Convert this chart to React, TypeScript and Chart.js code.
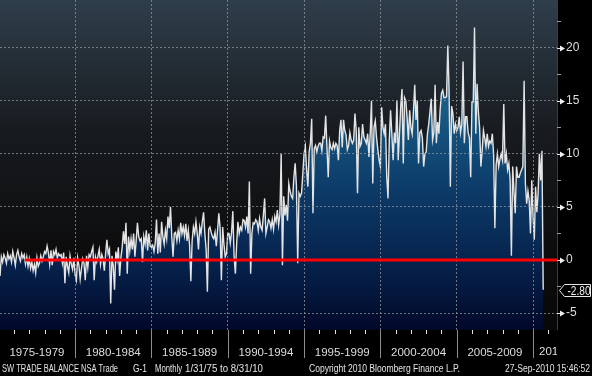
import React, { useEffect, useRef } from "react";
import { Chart, registerables } from "chart.js";

Chart.register(...registerables);

// ---- Monthly trade balance values (one array per year, Jan..Dec) ----
const y1975 = [-1.5, 0.3, -0.2, 0.5, 0.2, -0.3, 0.6, 0.1, 0.4, -0.2, 0.8, 0.2];
const y1976 = [-0.5, 0.5, 0.9, 0.3, -0.1, 0.6, 0.2, 0.5, -0.4, 0.3, -0.6, 0.1];
const y1977 = [-0.8, -0.2, -1.0, -0.4, -1.2, 0.2, -0.6, -0.3, 0.4, -0.1, 0.3, 0.8];
const y1978 = [0.6, 1.3, 0.7, -0.4, 0.9, -0.5, 0.8, 0.5, 1.0, 0.2, 0.6, 0.4];
const y1979 = [0.5, -0.3, 0.7, -2.2, 0.3, -0.6, -1.2, 0.4, -0.4, -0.9, 0.2, -1.4];
const y1980 = [-1.9, 0.2, -0.5, -1.8, -0.8, 0.1, -0.3, -1.9, 0.4, -0.7, 0.5, 0.3];
const y1981 = [0.8, 1.2, -1.9, 0.3, -0.2, 0.4, 1.0, -0.4, 0.5, 0.1, -1.0, 0.6];
const y1982 = [1.9, 0.6, 1.0, -4.1, 0.4, -0.6, -2.8, 0.8, 0.0, 1.2, -1.5, 0.2];
const y1983 = [1.2, 2.7, 1.5, 3.5, -1.3, 2.2, 0.9, 2.0, 1.0, 2.5, 0.3, 1.8];
const y1984 = [3.5, 2.2, 1.8, 2.0, -0.2, 2.2, 1.5, 2.8, 0.9, 2.5, 1.3, 1.2];
const y1985 = [1.4, 0.8, 1.6, 3.8, 0.6, 2.5, 0.7, 3.6, 2.2, 1.5, 2.8, 2.0];
const y1986 = [4.1, 3.0, 5.0, 2.2, 0.3, 2.5, 2.6, 1.8, 2.8, 2.0, 3.5, 2.5];
const y1987 = [3.1, 2.3, 3.4, 1.8, 2.8, 1.4, -2.0, 1.8, 3.1, 2.5, 3.6, 2.5];
const y1988 = [1.0, 3.1, 2.5, 3.6, 4.5, 2.5, 1.0, -3.0, 2.9, 3.1, 2.6, 2.2];
const y1989 = [2.0, 2.6, 1.3, 2.8, 4.4, 3.0, -1.9, 3.1, 1.5, 0.3, 0.6, 2.5];
const y1990 = [2.5, 1.6, 2.6, 4.6, 0.3, -1.3, 1.5, 3.6, 2.5, 3.1, 2.8, 3.8];
const y1991 = [3.7, 3.1, 4.1, 2.5, 7.4, -1.3, 2.5, 3.5, 3.4, 3.8, 3.6, 2.8];
const y1992 = [3.9, 3.1, 2.8, 4.2, 5.8, 2.5, 3.1, 3.8, 3.6, 3.0, 3.8, 2.9];
const y1993 = [4.1, 3.6, 4.7, 3.3, 4.3, 10.0, -0.5, 6.0, 4.2, 5.2, 3.7, 7.2];
const y1994 = [6.5, 6.0, 5.8, 7.8, 9.1, 7.0, -0.3, 6.3, 6.0, 6.3, 8.1, 10.0];
const y1995 = [10.7, 8.5, 6.9, 10.2, 11.0, 13.3, 4.4, 10.5, 10.8, 10.2, 10.7, 11.0];
const y1996 = [11.0, 10.3, 11.6, 11.5, 13.6, 10.6, 7.8, 11.2, 10.6, 10.4, 11.0, 10.5];
const y1997 = [11.0, 10.8, 9.4, 12.2, 13.2, 10.6, 13.2, 12.2, 11.8, 10.4, 10.8, 12.0];
const y1998 = [11.3, 11.0, 11.3, 13.8, 12.2, 6.3, 12.5, 10.7, 11.0, 12.8, 11.6, 11.3];
const y1999 = [11.0, 11.9, 9.7, 11.9, 15.0, 7.2, 12.5, 13.1, 11.5, 10.4, 9.4, 8.8];
const y2000 = [14.4, 12.5, 11.9, 12.8, 7.8, 5.8, 11.3, 14.1, 11.9, 9.4, 12.0, 11.0];
const y2001 = [15.0, 9.4, 11.9, 14.5, 16.1, 9.1, 15.3, 15.0, 13.4, 11.3, 14.1, 12.5];
const y2002 = [11.9, 14.0, 16.5, 13.2, 15.0, 9.1, 12.0, 12.2, 11.5, 8.8, 10.0, 10.2];
const y2003 = [11.9, 12.8, 14.0, 15.2, 11.3, 12.0, 16.5, 11.0, 13.0, 11.9, 14.2, 15.7];
const y2004 = [16.0, 15.3, 15.3, 15.4, 20.2, 16.0, 6.9, 14.5, 13.8, 11.9, 12.8, 12.2];
const y2005 = [12.5, 13.5, 12.0, 12.8, 18.7, 11.0, 13.5, 13.5, 12.0, 11.5, 7.8, 14.9];
const y2006 = [14.9, 21.9, 11.9, 16.6, 14.0, 12.5, 8.8, 10.3, 12.2, 11.5, 10.7, 11.9];
const y2007 = [10.7, 11.2, 11.0, 11.9, 10.0, 3.0, 9.0, 10.0, 8.8, 9.5, 10.0, 9.4];
const y2008 = [14.7, 9.1, 10.0, 8.5, 9.1, 7.5, 0.4, 8.8, 6.5, 4.4, 8.8, 7.8];
const y2009 = [7.8, 8.2, 8.5, 8.8, 16.9, 7.2, 5.3, 6.5, 5.6, 2.5, 7.5, 4.1];
const y2010 = [1.9, 6.9, 4.5, 6.3, 10.0, 7.5, 10.3, -2.8];

const yearStarts = [
  1975, 1976, 1977, 1978, 1979, 1980, 1981, 1982, 1983, 1984, 1985, 1986,
  1987, 1988, 1989, 1990, 1991, 1992, 1993, 1994, 1995, 1996, 1997, 1998,
  1999, 2000, 2001, 2002, 2003, 2004, 2005, 2006, 2007, 2008, 2009, 2010,
];
const seriesByYear = [
  y1975, y1976, y1977, y1978, y1979, y1980, y1981, y1982, y1983, y1984, y1985, y1986,
  y1987, y1988, y1989, y1990, y1991, y1992, y1993, y1994, y1995, y1996, y1997, y1998,
  y1999, y2000, y2001, y2002, y2003, y2004, y2005, y2006, y2007, y2008, y2009, y2010,
];

// ---- Axis labels / ticks ----
const periodStarts = [1975, 1980, 1985, 1990, 1995, 2000, 2005, 2010];
const periodLabels = [
  "1975-1979", "1980-1984", "1985-1989", "1990-1994",
  "1995-1999", "2000-2004", "2005-2009", "2010-2014",
];
const yMajorTicks = [-5, 0, 5, 10, 15, 20];
const yMinorTicks = [-2.5, 2.5, 7.5, 12.5, 17.5, 22.5];

// ---- Footer texts ----
const footerTitle = "SW TRADE BALANCE NSA Trade";
const footerGraph = "G-1";
const footerFreq = "Monthly";
const footerRange = "1/31/75 to 8/31/10";
const footerCopyright = "Copyright 2010 Bloomberg Finance L.P.";
const footerStamp = "27-Sep-2010 15:46:52";

// ---- Scale ranges ----
const X_MIN = 1975.08;
const X_MAX = 2011.57;
const Y_MIN = -6.6;
const Y_MAX = 24.5;
const ZERO_LINE_FROM = 1976.7;

const FONT = "'Liberation Sans', Arial, sans-serif";
const LABEL_COLOR = "#dedede";
const GRID_COLOR = "rgba(150,150,150,0.75)";
const X_LABEL_PAD = 16;
const X_LABEL_SIZE = 11.5;

function fitText(ctx: CanvasRenderingContext2D, text: string, x: number, y: number, w: number) {
  const m = ctx.measureText(text).width;
  const s = m > 0 ? w / m : 1;
  ctx.save();
  ctx.translate(x, y);
  ctx.scale(s, 1);
  ctx.fillText(text, 0, 0);
  ctx.restore();
}

const decorPlugin = {
  id: "decor",
  beforeDraw(chart: any) {
    const { ctx, chartArea: a, width, height } = chart;
    ctx.save();
    ctx.fillStyle = "#000";
    ctx.fillRect(0, 0, width, height);
    const g = ctx.createLinearGradient(0, a.top, 0, a.bottom);
    g.addColorStop(0, "#2f3e4b");
    g.addColorStop(0.4, "#171b1f");
    g.addColorStop(0.75, "#0d0d0e");
    g.addColorStop(1, "#080808");
    ctx.fillStyle = g;
    ctx.fillRect(a.left, a.top, a.right - a.left, a.bottom - a.top);
    ctx.restore();
  },
  afterDraw(chart: any) {
    const { ctx, chartArea: a } = chart;
    const xs = chart.scales.x;
    const ys = chart.scales.y;
    ctx.save();

    // red zero line
    const y0 = Math.round(ys.getPixelForValue(0));
    ctx.strokeStyle = "#ff0000";
    ctx.lineWidth = 3;
    ctx.beginPath();
    ctx.moveTo(xs.getPixelForValue(ZERO_LINE_FROM), y0);
    ctx.lineTo(a.right, y0);
    ctx.stroke();

    // plot right edge
    ctx.strokeStyle = "#3c3c3c";
    ctx.lineWidth = 1;
    ctx.beginPath();
    ctx.moveTo(a.right + 0.5, a.top);
    ctx.lineTo(a.right + 0.5, a.bottom);
    ctx.stroke();

    // x band: yearly ticks and 5-year separators
    for (let yr = Math.ceil(X_MIN); yr <= Math.floor(X_MAX); yr++) {
      const px = Math.round(xs.getPixelForValue(yr)) + 0.5;
      const major = periodStarts.indexOf(yr) >= 0;
      ctx.strokeStyle = major ? "#8c8c8c" : "#e6e6e6";
      ctx.beginPath();
      ctx.moveTo(px, a.bottom);
      ctx.lineTo(px, major ? a.bottom + 28 : a.bottom + 4);
      ctx.stroke();
    }

    // last (clipped) period label
    const li = periodStarts.length - 1;
    ctx.save();
    ctx.beginPath();
    ctx.rect(a.left, a.bottom, a.right - a.left, 30);
    ctx.clip();
    ctx.font = X_LABEL_SIZE + "px " + FONT;
    ctx.fillStyle = LABEL_COLOR;
    ctx.textAlign = "left";
    ctx.textBaseline = "top";
    ctx.fillText(periodLabels[li], xs.getPixelForValue(periodStarts[li]) + 6, xs.top + X_LABEL_PAD);
    ctx.restore();

    // y axis markers
    yMajorTicks.forEach((v) => {
      const py = Math.round(ys.getPixelForValue(v)) + 0.5;
      ctx.strokeStyle = "#e6e6e6";
      ctx.beginPath();
      ctx.moveTo(a.right, py);
      ctx.lineTo(a.right + 4, py);
      ctx.stroke();
      ctx.fillStyle = "#f0f0f0";
      ctx.beginPath();
      ctx.moveTo(a.right + 3, py - 3);
      ctx.lineTo(a.right + 8, py);
      ctx.lineTo(a.right + 3, py + 3);
      ctx.closePath();
      ctx.fill();
    });
    yMinorTicks.forEach((v) => {
      const py = Math.round(ys.getPixelForValue(v)) + 0.5;
      ctx.strokeStyle = "#9a9a9a";
      ctx.beginPath();
      ctx.moveTo(a.right, py);
      ctx.lineTo(a.right + 4, py);
      ctx.stroke();
    });

    // last value callout
    const ds = chart.data.datasets[0].data;
    const lastVal = ds[ds.length - 1].y;
    const cy = Math.round(ys.getPixelForValue(lastVal)) + 0.5;
    const cx = a.right + 2.5;
    ctx.beginPath();
    ctx.moveTo(cx, cy);
    ctx.lineTo(cx + 5, cy - 6);
    ctx.lineTo(590.5, cy - 6);
    ctx.lineTo(590.5, cy + 6);
    ctx.lineTo(cx + 5, cy + 6);
    ctx.closePath();
    ctx.fillStyle = "#000";
    ctx.fill();
    ctx.strokeStyle = "#e8e8e8";
    ctx.lineWidth = 1;
    ctx.stroke();
    ctx.fillStyle = "#f2f2f2";
    ctx.font = "12px " + FONT;
    ctx.textAlign = "left";
    ctx.textBaseline = "middle";
    fitText(ctx, lastVal.toFixed(2), cx + 8, cy + 1, 23);

    // footer
    ctx.fillStyle = "#e4e4e4";
    ctx.font = "10px " + FONT;
    ctx.textAlign = "left";
    ctx.textBaseline = "alphabetic";
    const fy = 372;
    fitText(ctx, footerTitle, 2, fy, 116);
    fitText(ctx, footerGraph, 133, fy, 14);
    fitText(ctx, footerFreq, 155, fy, 27);
    fitText(ctx, footerRange, 185, fy, 78);
    fitText(ctx, footerCopyright, 309, fy, 151);
    fitText(ctx, footerStamp, 505, fy, 85);

    ctx.restore();
  },
};

export default function App() {
  const ref = useRef<HTMLCanvasElement>(null);

  useEffect(() => {
    if (!ref.current) return;
    const points: { x: number; y: number }[] = [];
    seriesByYear.forEach((vals, yi) => {
      vals.forEach((v, m) => points.push({ x: yearStarts[yi] + (m + 1) / 12, y: v }));
    });

    const chart = new Chart(ref.current, {
      type: "line",
      data: {
        datasets: [
          {
            data: points,
            xAxisID: "x",
            yAxisID: "y",
            borderColor: "#e4e4e4",
            borderWidth: 1.4,
            pointRadius: 0,
            tension: 0,
            fill: "start",
            backgroundColor: (c: any) => {
              const a = c.chart.chartArea;
              if (!a) return "rgba(0,0,0,0)";
              const g = c.chart.ctx.createLinearGradient(0, a.top, 0, a.bottom);
              g.addColorStop(0, "#2a8cb8");
              g.addColorStop(0.3, "#185e88");
              g.addColorStop(0.6, "#0c3866");
              g.addColorStop(0.8, "#06224c");
              g.addColorStop(1, "#010929");
              return g;
            },
          },
        ],
      },
      options: {
        responsive: false,
        animation: false,
        devicePixelRatio: 1,
        layout: { padding: { left: 0, right: 0, top: 0, bottom: 18 } },
        plugins: { legend: { display: false }, tooltip: { enabled: false } },
        scales: {
          x: {
            type: "linear",
            position: "bottom",
            min: X_MIN,
            max: X_MAX,
            afterBuildTicks: (s: any) => {
              s.ticks = periodStarts
                .map((p) => ({ value: p + 2.5 }))
                .filter((t) => t.value <= X_MAX);
            },
            afterFit: (s: any) => {
              s.height = 28;
              s.paddingLeft = 0;
              s.paddingRight = 0;
            },
            grid: { display: false, drawTicks: false },
            border: { display: false },
            ticks: {
              autoSkip: false,
              maxRotation: 0,
              minRotation: 0,
              padding: X_LABEL_PAD,
              color: LABEL_COLOR,
              font: { family: FONT, size: X_LABEL_SIZE },
              callback: (_v: any, i: number) => periodLabels[i],
            },
          },
          xb: {
            type: "linear",
            position: "bottom",
            min: X_MIN,
            max: X_MAX,
            afterBuildTicks: (s: any) => {
              s.ticks = periodStarts
                .filter((p) => p > X_MIN && p < X_MAX)
                .map((p) => ({ value: p }));
            },
            afterFit: (s: any) => {
              s.height = 0;
              s.paddingLeft = 0;
              s.paddingRight = 0;
            },
            grid: { color: GRID_COLOR, drawTicks: false, z: 1, lineWidth: 1 },
            border: { display: false, dash: [2, 2] },
            ticks: { display: false },
          },
          y: {
            type: "linear",
            position: "right",
            min: Y_MIN,
            max: Y_MAX,
            afterBuildTicks: (s: any) => {
              s.ticks = yMajorTicks.map((v) => ({ value: v }));
            },
            afterFit: (s: any) => {
              s.width = 35;
              s.paddingTop = 0;
              s.paddingBottom = 0;
            },
            grid: {
              color: (c: any) => (c.tick && c.tick.value === 0 ? "rgba(0,0,0,0)" : GRID_COLOR),
              drawTicks: false,
              z: 1,
              lineWidth: 1,
            },
            border: { display: false, dash: [2, 2] },
            ticks: {
              padding: 9,
              color: LABEL_COLOR,
              font: { family: FONT, size: 12 },
              callback: (v: any) => String(v),
            },
          },
        },
      },
      plugins: [decorPlugin],
    } as any);

    return () => chart.destroy();
  }, []);

  return (
    <div style={{ position: "fixed", left: 0, top: 0, width: 592, height: 376, background: "#000" }}>
      <canvas ref={ref} width={592} height={376} style={{ display: "block", width: 592, height: 376 }} />
    </div>
  );
}
